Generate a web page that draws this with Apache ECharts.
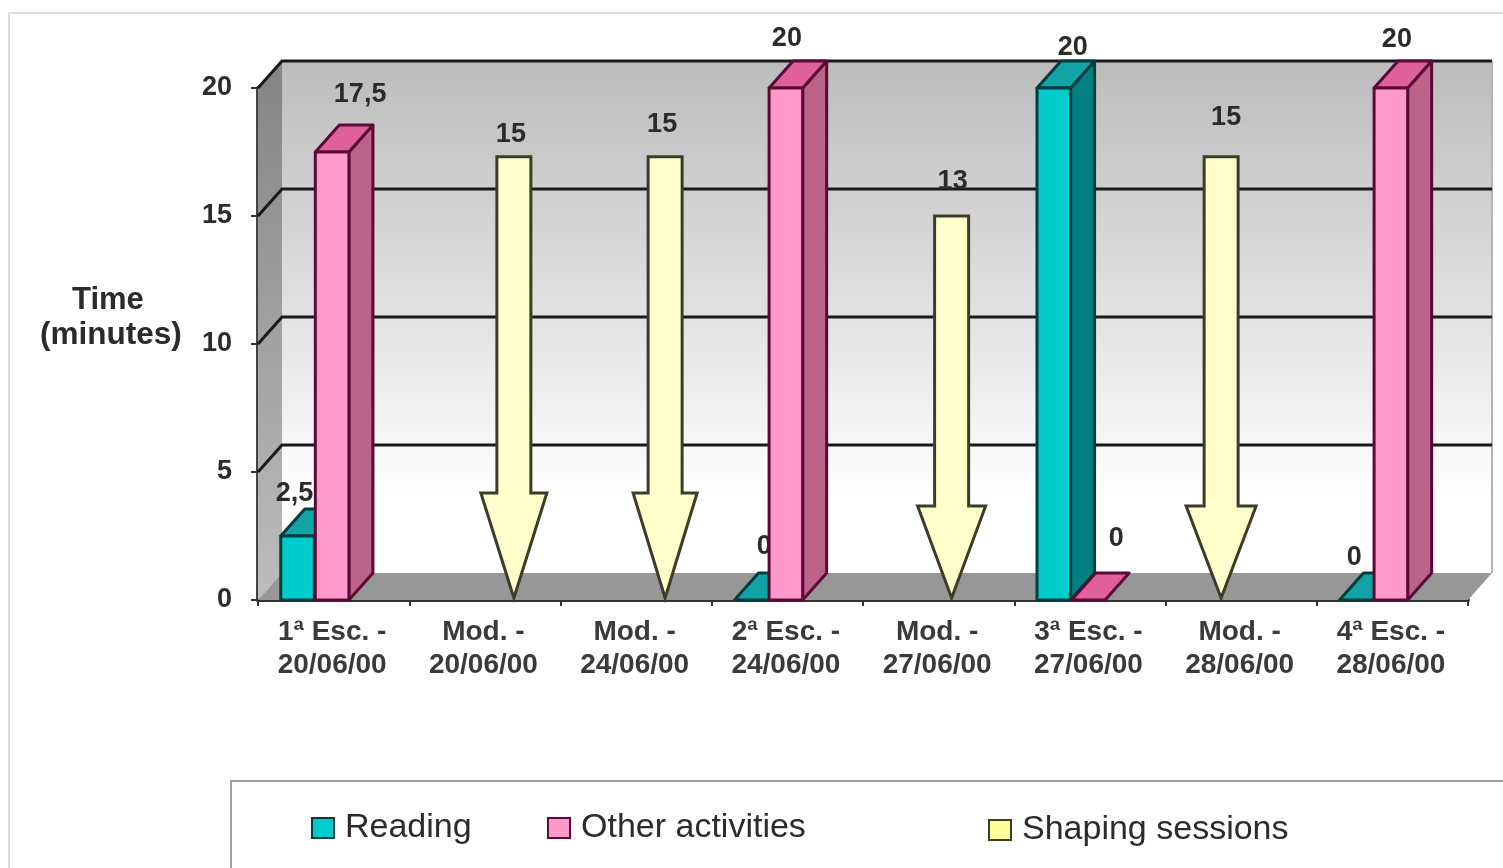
<!DOCTYPE html>
<html>
<head>
<meta charset="utf-8">
<style>html,body{margin:0;padding:0;background:#fff;overflow:hidden}#chart{width:1503px;height:868px}</style>
<script src="https://cdn.jsdelivr.net/npm/echarts@6/dist/echarts.min.js"></script>
</head>
<body>
<div id="chart"></div>
<script>
// Session data: minutes per activity for each escalation / modelling session.
const categories = ['1ª Esc. -\n20/06/00', 'Mod. -\n20/06/00', 'Mod. -\n24/06/00', '2ª Esc. -\n24/06/00',
                    'Mod. -\n27/06/00', '3ª Esc. -\n27/06/00', 'Mod. -\n28/06/00', '4ª Esc. -\n28/06/00'];
const reading = [2.5, null, null, 0, null, 20, null, 0];
const otherActivities = [17.5, null, null, 20, null, 0, null, 20];
const shapingSessions = [null, 15, 15, null, 13, null, 15, null];
const yTicks = [5, 10, 15, 20];

// Label nudges [dx, dy] away from the top of each mark, by category index.
const readingLabelShift = { 0: [-3, -42], 3: [13, -53], 5: [19, -40], 7: [-2, -42] };
const otherLabelShift = { 0: [28, -57], 3: [1, -49], 5: [28, -61], 7: [6, -48] };
const shapingLabelShift = { 1: [-3, -22], 2: [-3, -32], 4: [1, -34], 6: [5, -39] };

// Hand-placed arrows: horizontal shift from the category centre, head half width, head height.
const arrowShape = { 1: [29, 33, 105], 2: [29, 32, 105], 4: [13, 34, 92], 6: [-20, 35, 92] };

const DEPTH_X = 24, DEPTH_Y = -27;
const FONT_FAMILY = '"Liberation Sans", Arial, sans-serif';
const LABEL_FONT = 'bold 27px ' + FONT_FAMILY;
const LABEL_COLOR = '#2b2b2b';

const toPoints = (values) => values.map((v, i) => [i, v]).filter((d) => d[1] !== null);
const valueText = (v) => String(v).replace('.', ',');

function labelElement(text, x, y) {
  return { type: 'text', z2: 20, style: { text, x, y, align: 'center', verticalAlign: 'middle', font: LABEL_FONT, fill: LABEL_COLOR } };
}

// Back wall, side wall, floor and the gridlines wrapped around them.
function renderRoom(params, api) {
  const c = params.coordSys;
  const x0 = c.x, x1 = c.x + c.width;
  const floorY = api.coord([0, 0])[1];
  const topY = api.coord([0, 20])[1];
  const p = (x, y) => [x + DEPTH_X, y + DEPTH_Y];
  const children = [
    { type: 'polygon', shape: { points: [p(x0, topY), p(x1, topY), p(x1, floorY), p(x0, floorY)] },
      style: { fill: new echarts.graphic.LinearGradient(0, 0, 0, 1, [
        { offset: 0, color: '#bcbcbc' }, { offset: 0.5, color: '#e2e2e2' }, { offset: 0.85, color: '#ffffff' }, { offset: 1, color: '#ffffff' }]) } },
    { type: 'polygon', shape: { points: [[x0, topY], p(x0, topY), p(x0, floorY), [x0, floorY]] },
      style: { fill: new echarts.graphic.LinearGradient(0, 0, 0, 1, [
        { offset: 0, color: '#848484' }, { offset: 1, color: '#bdbdbd' }]) } },
    { type: 'polygon', shape: { points: [[x0, floorY], [x1, floorY], p(x1, floorY), p(x0, floorY)] },
      style: { fill: '#979797' } },
    { type: 'line', shape: { x1: x1 + DEPTH_X, y1: topY + DEPTH_Y, x2: x1 + DEPTH_X, y2: floorY + DEPTH_Y },
      style: { stroke: '#b4b4b4', lineWidth: 2 } }
  ];
  yTicks.forEach((v) => {
    const y = api.coord([0, v])[1];
    children.push({ type: 'polyline', shape: { points: [[x0, y], p(x0, y), p(x1, y)] },
      style: { fill: 'none', stroke: '#1a1a1a', lineWidth: 3 } });
  });
  return { type: 'group', children };
}

// One extruded column: front face, top and right side, with its value above it.
function barRenderer(slot, face, top, side, edge, labelShift) {
  return function (params, api) {
    const i = api.value(0), v = api.value(1);
    const band = api.size([1, 0])[0];
    const w = band * 0.222;
    const cx = api.coord([i, 0])[0] - 1.5 + slot * (w + 1);
    const yTop = api.coord([i, v])[1];
    const yBase = api.coord([i, 0])[1];
    const xl = cx - w / 2, xr = cx + w / 2;
    const stroke = { stroke: edge, lineWidth: 3, lineJoin: 'round' };
    const children = [];
    if (v > 0) {
      children.push({ type: 'polygon', shape: { points: [[xr, yTop], [xr + DEPTH_X, yTop + DEPTH_Y], [xr + DEPTH_X, yBase + DEPTH_Y], [xr, yBase]] },
        style: Object.assign({ fill: side }, stroke) });
    }
    children.push({ type: 'polygon', shape: { points: [[xl, yTop], [xr, yTop], [xr + DEPTH_X, yTop + DEPTH_Y], [xl + DEPTH_X, yTop + DEPTH_Y]] },
      style: Object.assign({ fill: top }, stroke) });
    if (v > 0) {
      children.push({ type: 'rect', shape: { x: xl, y: yTop, width: w, height: yBase - yTop },
        style: Object.assign({ fill: face }, stroke) });
    }
    const s = labelShift[i];
    children.push(labelElement(valueText(v), cx + s[0], yTop + s[1]));
    return { type: 'group', children };
  };
}

// Downward block arrow whose tip rests on the floor and whose length carries the value.
function renderArrow(params, api) {
  const i = api.value(0), v = api.value(1);
  const [shift, halfHead, headH] = arrowShape[i];
  const cx = api.coord([i, 0])[0] + shift;
  const yTop = api.coord([i, v])[1];
  const yTip = api.coord([i, 0])[1] - 2;
  const halfShaft = 17;
  const yHead = yTip - headH;
  const s = shapingLabelShift[i];
  return { type: 'group', children: [
    { type: 'polygon', shape: { points: [[cx - halfShaft, yTop], [cx + halfShaft, yTop], [cx + halfShaft, yHead], [cx + halfHead, yHead], [cx, yTip], [cx - halfHead, yHead], [cx - halfShaft, yHead]] },
      style: { fill: '#ffffcc', stroke: '#3c3c28', lineWidth: 3, lineJoin: 'miter' } },
    labelElement(valueText(v), cx + s[0], yTop + s[1])
  ] };
}

const legendText = { fontFamily: FONT_FAMILY, fontSize: 34, color: '#2b2b2b', padding: [0, 0, 0, 6] };
const legendBase = { orient: 'horizontal', icon: 'rect', itemWidth: 22, itemHeight: 20, itemGap: 0, padding: 0, textStyle: legendText, selectedMode: false };

const option = {
  animation: false,
  backgroundColor: '#ffffff',
  grid: { left: 258, right: 35, top: 88, bottom: 268, containLabel: false },
  xAxis: {
    type: 'category', data: categories,
    axisLine: { show: true, lineStyle: { color: '#333333', width: 4 } },
    axisTick: { show: true, inside: false, length: 6, alignWithLabel: false, lineStyle: { color: '#333333', width: 2 } },
    axisLabel: { interval: 0, margin: 16, lineHeight: 33, padding: [0, 3, 0, 0], fontFamily: FONT_FAMILY, fontSize: 28, fontWeight: 'bold', color: '#3a3a3a' },
    splitLine: { show: false }
  },
  yAxis: [
    { type: 'value', min: 0, max: 20, interval: 5,
      axisLine: { show: true, lineStyle: { color: '#444444', width: 4 } },
      axisTick: { show: true, length: 7, lineStyle: { color: '#333333', width: 2 } },
      axisLabel: { margin: 26, fontFamily: FONT_FAMILY, fontSize: 27, fontWeight: 'bold', color: '#2b2b2b' },
      splitLine: { show: false } },
    // Scale for the hand-drawn arrows, which run longer per minute than the columns.
    { type: 'value', min: 0, max: 17.33, show: false, splitLine: { show: false } }
  ],
  legend: [
    Object.assign({ data: ['Reading'], left: 311, top: 811 }, legendBase),
    Object.assign({ data: ['Other activities'], left: 547, top: 811 }, legendBase),
    Object.assign({ data: ['Shaping sessions'], left: 988, top: 813 }, legendBase)
  ],
  graphic: [
    { type: 'rect', z: -1, shape: { x: 9, y: 13, width: 1520, height: 900 }, style: { fill: 'none', stroke: '#d4d4d4', lineWidth: 1.5 } },
    { type: 'rect', z: -1, shape: { x: 231, y: 781, width: 1300, height: 120 }, style: { fill: '#ffffff', stroke: '#a0a0a0', lineWidth: 2 } },
    { type: 'text', left: 72, top: 285, style: { text: 'Time', font: 'bold 31px ' + FONT_FAMILY, fill: '#2b2b2b' } },
    { type: 'text', left: 40, top: 319, style: { text: '(minutes)', font: 'bold 31.5px ' + FONT_FAMILY, fill: '#2b2b2b' } }
  ],
  series: [
    { type: 'custom', name: 'room', coordinateSystem: 'cartesian2d', z: 1, silent: true, data: [[0, 0]], renderItem: renderRoom, encode: { x: 0, y: 1 } },
    { type: 'custom', name: 'Reading', coordinateSystem: 'cartesian2d', z: 3, data: toPoints(reading), encode: { x: 0, y: 1 },
      itemStyle: { color: '#00cccc', borderColor: '#063c3c', borderWidth: 2 },
      renderItem: barRenderer(-1, '#00cccc', '#12a3a6', '#008080', '#063c3c', readingLabelShift) },
    { type: 'custom', name: 'Other activities', coordinateSystem: 'cartesian2d', z: 4, data: toPoints(otherActivities), encode: { x: 0, y: 1 },
      itemStyle: { color: '#ff99cc', borderColor: '#5a0a35', borderWidth: 2 },
      renderItem: barRenderer(0, '#ff99cc', '#e0609c', '#bb6488', '#5a0a35', otherLabelShift) },
    { type: 'custom', name: 'Shaping sessions', coordinateSystem: 'cartesian2d', yAxisIndex: 1, z: 5, data: toPoints(shapingSessions), encode: { x: 0, y: 1 },
      itemStyle: { color: '#ffff99', borderColor: '#3c3c28', borderWidth: 2 },
      renderItem: renderArrow }
  ]
};

echarts.init(document.getElementById('chart'), null, { renderer: 'canvas' }).setOption(option);
</script>
</body>
</html>
